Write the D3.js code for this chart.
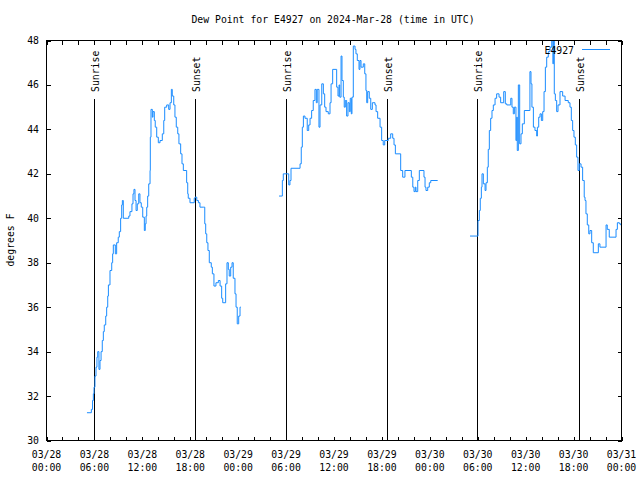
<!DOCTYPE html>
<html>
<head>
<meta charset="utf-8">
<script src="https://cdn.jsdelivr.net/npm/d3@7"></script>
<style>
  html, body { margin: 0; padding: 0; background: #fff; }
  svg { display: block; }
  text { font-family: "DejaVu Sans Mono", monospace; font-size: 9.8px; fill: #000; }
</style>
</head>
<body>
<svg id="chart" width="640" height="480"></svg>
<script>
// ---------------- data ----------------
const chartTitle = "Dew Point for E4927 on 2024-Mar-28 (time in UTC)";
const yLabel = "degrees F";
const seriesName = "E4927";
const yTicks = [30, 32, 34, 36, 38, 40, 42, 44, 46, 48];
const xMajorTicks = ["28 00:00","28 06:00","28 12:00","28 18:00","29 00:00","29 06:00","29 12:00","29 18:00","30 00:00","30 06:00","30 12:00","30 18:00","31 00:00"];

// segment 1 (03/28 - 03/29 early)
const seg1Times = ["28 05:04","28 05:37","28 05:46","28 05:52","28 05:57","28 06:04","28 06:12","28 06:19","28 06:25","28 06:34","28 06:42","28 06:50","28 06:59","28 07:07","28 07:14","28 07:25","28 07:32","28 07:40","28 07:45","28 07:57","28 08:10","28 08:17","28 08:22","28 08:37","28 08:47","28 08:59","28 09:07","28 09:17","28 09:25","28 09:30","28 09:37","28 10:18","28 10:27","28 10:42","28 10:50","28 10:57","28 11:05","28 11:13","28 11:22","28 11:33","28 11:42","28 11:52","28 12:03","28 12:15","28 12:22","28 12:28","28 12:33","28 12:40","28 12:48","28 12:58","28 13:00","28 13:05","28 13:15","28 13:20","28 13:30","28 13:37","28 13:48","28 14:00","28 14:13","28 14:30","28 14:41","28 14:48","28 15:03","28 15:18","28 15:28","28 15:38","28 15:45","28 15:56","28 16:05","28 16:15","28 16:26","28 16:35","28 16:48","28 16:58","28 17:08","28 17:33","28 17:41","28 17:45","28 17:58","28 18:30","28 18:36","28 18:49","28 19:01","28 19:13","28 19:38","28 19:49","28 19:56","28 20:04","28 20:13","28 20:23","28 20:38","28 20:46","28 20:58","28 21:13","28 21:31","28 21:44","28 21:56","28 22:04","28 22:26","28 22:36","28 22:46","28 22:53","28 23:04","28 23:14","28 23:23","28 23:36","28 23:44","28 23:53","29 00:04","29 00:14","29 00:20"];
const seg1Values = [31.25,31.4,31.8,32.1,32.4,32.9,33.3,33.75,34.0,33.2,33.6,34.0,34.5,34.9,35.2,35.6,36.0,36.5,37.0,37.65,38.0,38.4,38.8,38.4,38.9,39.15,39.4,40.0,40.6,40.8,40.0,40.1,40.3,40.65,41.1,41.3,40.8,40.35,40.65,41.1,40.7,40.5,40.05,39.45,39.75,40.1,40.5,41.0,41.55,42.15,43.65,44.9,44.55,44.8,44.4,44.1,43.65,43.4,43.5,43.8,44.4,45.0,45.1,44.9,45.2,45.8,45.5,45.1,44.55,44.1,43.8,43.35,42.9,42.45,42.15,41.6,41.1,40.9,40.7,40.9,40.95,40.8,40.7,40.5,40.5,39.75,39.3,38.9,38.55,38.0,37.8,37.5,36.95,37.1,37.2,36.95,36.4,36.2,37.05,38.0,37.7,37.4,37.8,38.0,37.3,36.6,36.0,35.25,35.6,36.0,36.0];

// segment 2 (03/29 - 03/30 early)
const seg2Times = ["29 05:07","29 05:32","29 05:39","29 06:20","29 06:29","29 06:37","29 07:45","29 07:54","29 08:02","29 08:10","29 08:22","29 08:39","29 08:50","29 09:00","29 09:12","29 09:24","29 09:37","29 09:47","29 09:54","29 10:07","29 10:15","29 10:28","29 10:40","29 10:50","29 11:00","29 11:17","29 11:30","29 11:38","29 11:50","29 12:20","29 12:30","29 12:38","29 12:43","29 12:53","29 13:00","29 13:10","29 13:17","29 13:25","29 13:35","29 13:45","29 13:55","29 14:02","29 14:10","29 14:15","29 14:25","29 14:38","29 14:45","29 14:55","29 15:08","29 15:15","29 15:23","29 15:40","29 15:51","29 16:00","29 16:06","29 16:13","29 16:25","29 16:36","29 16:48","29 17:08","29 17:16","29 17:28","29 17:46","29 17:58","29 18:10","29 18:21","29 18:48","29 19:06","29 19:21","29 19:31","29 19:41","29 20:21","29 20:36","29 20:53","29 21:41","29 21:52","29 22:01","29 22:11","29 22:16","29 22:29","29 22:41","29 23:16","29 23:24","29 23:31","29 23:44","29 23:56","30 00:07","30 00:59"];
const seg2Values = [41.0,41.7,42.0,41.5,41.7,42.25,42.45,43.2,44.1,44.6,44.5,43.95,44.2,44.5,44.85,45.3,45.8,45.2,45.8,44.1,45.1,46.05,45.6,45.0,44.8,44.7,45.2,46.05,46.7,45.9,45.5,46.0,45.45,47.3,46.2,45.45,45.0,45.3,44.6,45.2,44.8,45.4,44.7,45.45,47.75,47.6,47.4,47.1,46.7,47.1,46.8,46.95,46.5,45.75,45.2,45.7,45.4,44.9,45.2,45.1,44.8,44.5,44.1,43.5,43.3,43.5,43.6,43.8,43.6,43.3,42.9,42.15,41.85,42.15,41.85,41.4,41.2,41.4,41.2,41.7,42.15,41.85,41.4,41.25,41.4,41.6,41.7,41.7];

// segment 3 (03/30 - 03/31)
const seg3Times = ["30 05:02","30 06:02","30 06:12","30 06:19","30 06:27","30 06:32","30 06:42","30 06:55","30 07:02","30 07:12","30 07:19","30 07:27","30 07:37","30 07:47","30 07:57","30 08:10","30 08:22","30 08:40","30 08:52","30 09:15","30 09:27","30 09:38","30 10:08","30 10:17","30 10:27","30 10:35","30 10:47","30 10:53","30 10:57","30 11:05","30 11:15","30 11:25","30 11:35","30 11:50","30 12:32","30 12:40","30 12:47","30 12:58","30 13:10","30 13:23","30 13:28","30 13:38","30 13:48","30 13:58","30 14:08","30 14:18","30 14:28","30 14:38","30 14:50","30 15:03","30 15:16","30 15:25","30 15:28","30 15:35","30 15:43","30 15:53","30 16:03","30 16:18","30 16:38","30 16:56","30 17:20","30 17:33","30 17:43","30 17:53","30 18:03","30 18:13","30 18:23","30 18:33","30 18:43","30 18:56","30 19:08","30 19:20","30 19:26","30 19:33","30 19:43","30 19:54","30 20:03","30 20:16","30 20:28","30 21:06","30 21:18","30 22:04","30 22:13","30 22:28","30 23:19","30 23:29","30 23:44","30 23:54","31 00:00"];
const seg3Values = [39.2,39.9,40.35,40.9,41.4,42.0,41.55,41.25,41.6,42.3,43.1,43.95,44.5,44.85,45.1,45.4,45.6,45.45,45.2,45.7,45.15,45.1,45.4,45.0,44.7,45.0,43.5,44.55,43.05,46.0,43.35,43.8,44.25,44.85,46.6,46.05,45.0,44.1,43.95,43.7,44.1,44.55,44.7,44.4,44.8,45.7,46.8,47.25,47.5,47.7,48.0,46.95,48.0,45.6,45.3,44.8,45.1,45.7,45.5,45.3,45.2,45.0,44.4,43.95,43.65,43.3,42.75,42.15,42.45,42.3,41.7,40.95,40.8,40.2,39.7,39.3,39.45,38.9,38.45,38.85,38.7,39.7,39.5,39.15,39.5,39.8,39.75,39.7,39.7];

const sunriseTimes = ["28 06:00","29 06:01","30 05:58"];
const sunsetTimes = ["28 18:38","29 18:40","30 18:42"];

// ---------------- drawing ----------------
const parseT = s => d3.utcParse("%Y-%m-%d %H:%M")("2024-03-" + s);
const svg = d3.select("#chart");
const L = 46.5, R = 621.5, T = 40.5, B = 440.5;

const x = d3.scaleUtc().domain([parseT("28 00:00"), parseT("31 00:00")]).range([L, R]);
const y = d3.scaleLinear().domain([30, 48]).range([B, T]);

// minor ticks every 2 hours
const minorTicks = d3.utcHour.every(2).range(parseT("28 00:00"), parseT("31 00:01"));
const majorTicks = xMajorTicks.map(parseT);

function tickAxis(axis, transform) {
  const g = svg.append("g").attr("transform", transform).call(axis);
  g.select(".domain").remove();
  g.selectAll("line").attr("stroke", "#000").attr("shape-rendering", "crispEdges");
  g.selectAll("text").remove();
  return g;
}
tickAxis(d3.axisBottom(x).tickValues(minorTicks).tickSize(-4).tickFormat(""), `translate(0,${B})`);
tickAxis(d3.axisTop(x).tickValues(minorTicks).tickSize(-4).tickFormat(""), `translate(0,${T})`);
tickAxis(d3.axisLeft(y).tickValues(yTicks).tickSize(-4).tickFormat(""), `translate(${L},0)`);
tickAxis(d3.axisRight(y).tickValues(yTicks).tickSize(-4).tickFormat(""), `translate(${R},0)`);

// x labels (two lines)
const fmtDate = d3.utcFormat("%m/%d"), fmtTime = d3.utcFormat("%H:%M");
const xl = svg.append("g").selectAll("g").data(majorTicks).join("g")
  .attr("transform", d => `translate(${x(d)},0)`);
xl.append("text").attr("y", 457.5).attr("text-anchor", "middle").text(d => fmtDate(d));
xl.append("text").attr("y", 471).attr("text-anchor", "middle").text(d => fmtTime(d));

// y labels
svg.append("g").selectAll("text").data(yTicks).join("text")
  .attr("x", 39).attr("y", d => y(d) + 3.5).attr("text-anchor", "end").text(d => d);

// sunrise / sunset lines
const sunG = svg.append("g");
function sunLines(times, label) {
  times.map(parseT).forEach(t => {
    const px = Math.round(x(t)) + 0.5;
    sunG.append("line").attr("x1", px).attr("x2", px).attr("y1", 98.5).attr("y2", B)
      .attr("stroke", "#000").attr("stroke-width", 1).attr("shape-rendering", "crispEdges");
    sunG.append("text").attr("transform", `translate(${px + 4.5},92) rotate(-90)`)
      .attr("text-anchor", "start").text(label);
  });
}
sunLines(sunriseTimes, "Sunrise");
sunLines(sunsetTimes, "Sunset");

// clip
svg.append("clipPath").attr("id", "clip").append("rect")
  .attr("x", L).attr("y", T - 0.5).attr("width", R - L).attr("height", B - T + 0.5);

const line = d3.line().x(d => x(d.t)).y(d => y(d.v)).curve(d3.curveStepAfter);
const segments = [[seg1Times, seg1Values], [seg2Times, seg2Values], [seg3Times, seg3Values]]
  .map(([ts, vs]) => ts.map((t, i) => ({ t: parseT(t), v: vs[i] })));
svg.append("g").attr("clip-path", "url(#clip)").selectAll("path").data(segments).join("path")
  .attr("d", line).attr("fill", "none").attr("stroke", "#1a8cff").attr("stroke-width", 1);

// frame
svg.append("rect").attr("x", L).attr("y", T).attr("width", R - L).attr("height", B - T)
  .attr("fill", "none").attr("stroke", "#000").attr("shape-rendering", "crispEdges");

// title
svg.append("text").attr("x", 333).attr("y", 22.5).attr("text-anchor", "middle").text(chartTitle);

// y label
svg.append("text").attr("transform", "translate(13.5,240) rotate(-90)").attr("text-anchor", "middle").text(yLabel);

// legend
svg.append("text").attr("x", 574).attr("y", 53.5).attr("text-anchor", "end").text(seriesName);
svg.append("line").attr("x1", 582).attr("x2", 610).attr("y1", 49.5).attr("y2", 49.5)
  .attr("stroke", "#1a8cff").attr("stroke-width", 1);
</script>
</body>
</html>
